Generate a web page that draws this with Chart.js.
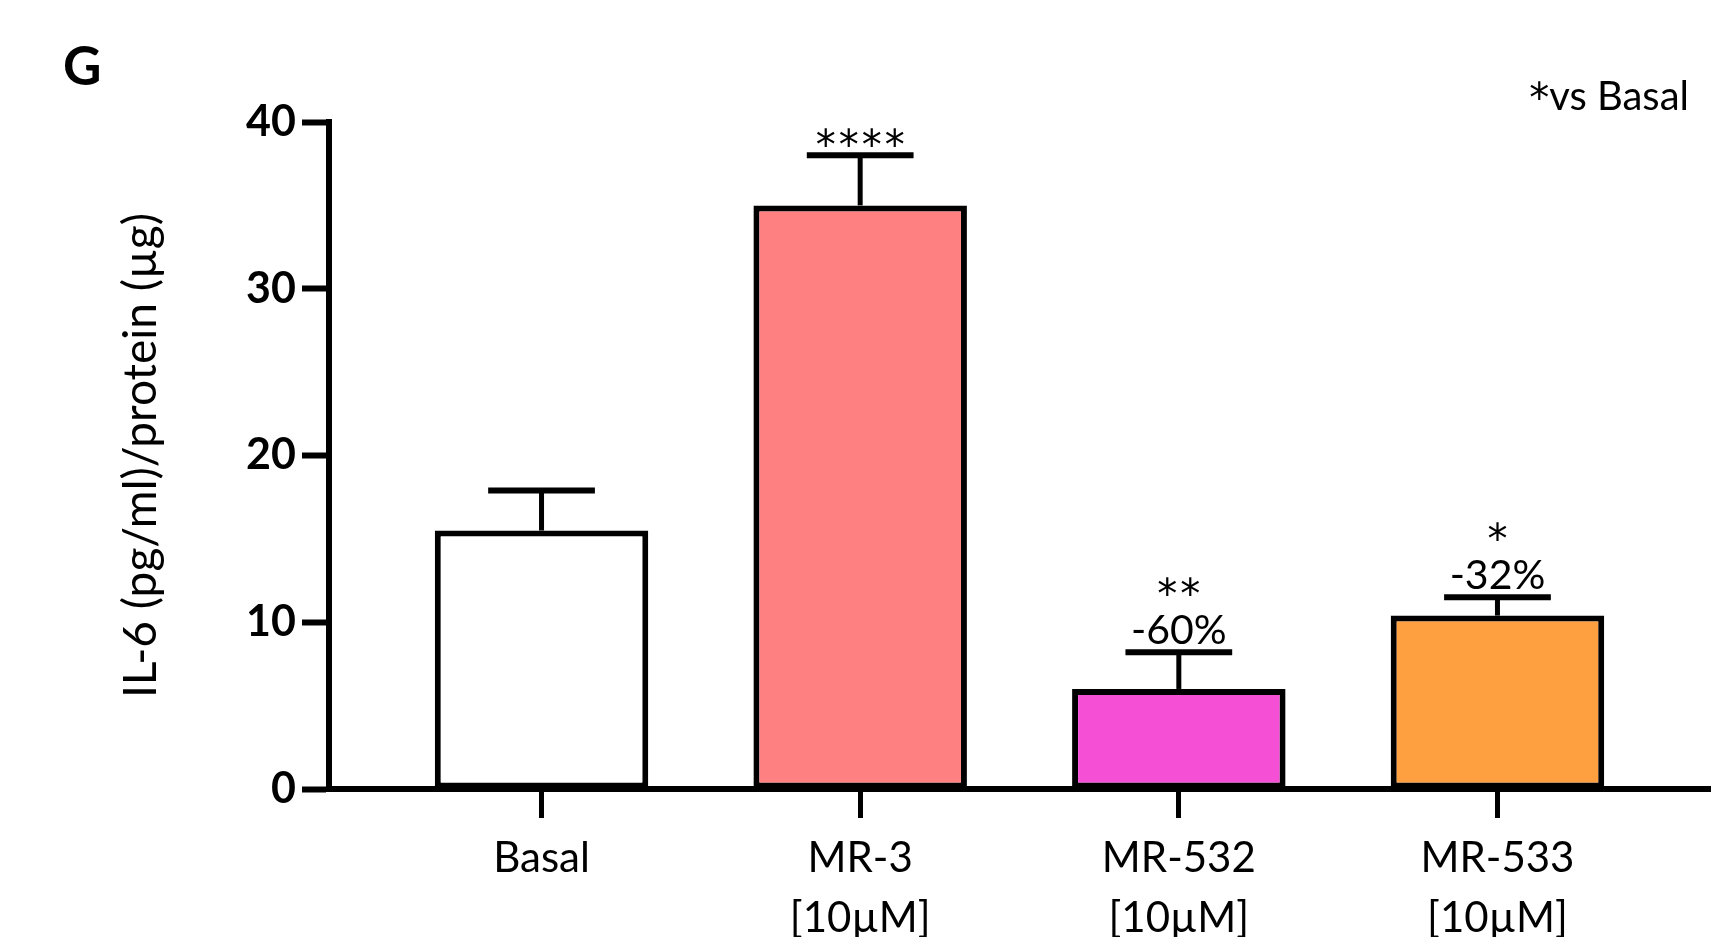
<!DOCTYPE html>
<html>
<head>
<meta charset="utf-8">
<script src="https://cdn.jsdelivr.net/npm/chart.js@4.4.0/dist/chart.umd.min.js"></script>
<style>
  html, body { margin: 0; padding: 0; background: #fff; }
  #wrap { width: 1736px; height: 937px; position: relative; }
</style>
</head>
<body>
<div id="wrap"><canvas id="il6Chart"></canvas></div>
<script>
const categories = ["Basal", "MR-3", "MR-532", "MR-533"];
const doses = ["", "[10µM]", "[10µM]", "[10µM]"];
const meanValues = [15.5, 35.0, 6.0, 10.4];
const semValues = [2.4, 3.0, 2.2, 1.1];
const sigLabels = ["", "****", "**", "*"];
const pctLabels = ["", "", "-60%", "-32%"];
const barColors = ["#FFFFFF", "#FF8080", "#F54FD6", "#FFA040"];
const yTicks = [0, 10, 20, 30, 40];

const starFont = "40px 'DejaVu Sans'";
const textFont = "41px Lato";

// error bars + significance text above each bar
const errorBars = {
    id: "errorBars",
    afterDatasetsDraw(chart) {
        const { ctx, scales: { x, y } } = chart;
        const meta = chart.getDatasetMeta(0);
        ctx.save();
        ctx.strokeStyle = "#000";
        ctx.fillStyle = "#000";
        meanValues.forEach((v, i) => {
            const cx = x.getPixelForValue(i);
            const top = y.getPixelForValue(v);
            const end = y.getPixelForValue(v + semValues[i]);
            const half = meta.data[i].width * 0.25;
            ctx.lineWidth = 5;
            ctx.beginPath();
            ctx.moveTo(cx, top);
            ctx.lineTo(cx, end);
            ctx.stroke();
            ctx.lineWidth = 6;
            ctx.beginPath();
            ctx.moveTo(cx - half, end);
            ctx.lineTo(cx + half, end);
            ctx.stroke();

            // lines drawn bottom-up: percentage first, then stars
            const lines = [];
            if (pctLabels[i]) lines.push([pctLabels[i], textFont]);
            if (sigLabels[i]) lines.push([sigLabels[i], starFont]);
            ctx.textAlign = "center";
            ctx.textBaseline = "alphabetic";
            let bottom = end - 8;
            lines.forEach(([t, f]) => {
                ctx.font = f;
                ctx.letterSpacing = f === starFont ? "3px" : "0px";
                const m = ctx.measureText(t);
                ctx.fillText(t, cx + (f === starFont ? 1.5 : 0), bottom - m.actualBoundingBoxDescent);
                bottom -= 48;
            });
        });
        ctx.restore();
    }
};

const cornerText = {
    id: "cornerText",
    afterDraw(chart) {
        const { ctx } = chart;
        ctx.save();
        ctx.fillStyle = "#000";
        ctx.textBaseline = "alphabetic";
        ctx.font = "bold 53px Lato";
        ctx.textAlign = "left";
        ctx.fillText("G", 63, 85);
        ctx.font = "40px Lato";
        ctx.textAlign = "right";
        ctx.fillText("vs Basal", 1689, 110);
        const w = ctx.measureText("vs Basal").width;
        ctx.font = starFont;
        const m = ctx.measureText("*");
        ctx.fillText("*", 1689 - w, 81 + m.actualBoundingBoxAscent);
        ctx.restore();
    }
};

const ctx = document.getElementById("il6Chart").getContext("2d");
new Chart(ctx, {
    type: "bar",
    data: {
        datasets: [{
            data: meanValues.map((v, i) => ({ x: i, y: v })),
            backgroundColor: barColors,
            borderColor: "#000",
            borderWidth: 6,
            borderSkipped: false,
            barPercentage: 0.67,
            categoryPercentage: 1
        }]
    },
    options: {
        responsive: true,
        maintainAspectRatio: false,
        animation: false,
        layout: { padding: { top: 122, right: 26, bottom: 0, left: 0 } },
        plugins: {
            legend: { display: false },
            tooltip: { enabled: false }
        },
        scales: {
            x: {
                type: "linear",
                offset: false,
                min: -0.667,
                max: 3.667,
                afterBuildTicks: (s) => { s.ticks = categories.map((c, i) => ({ value: i })); },
                afterFit: (s) => { s.height = 148; },
                border: { display: true, color: "#000", width: 6 },
                grid: { offset: false, drawOnChartArea: false, drawTicks: true, tickLength: 29, tickWidth: 5, tickColor: "#000" },
                ticks: {
                    autoSkip: false,
                    maxRotation: 0,
                    padding: 10,
                    color: "#000",
                    font: { family: "Lato", size: 42, lineHeight: 1.43 },
                    callback: (v, i) => doses[i] ? [categories[i], doses[i]] : categories[i]
                }
            },
            y: {
                min: 0,
                max: 40,
                afterBuildTicks: (s) => { s.ticks = yTicks.map(v => ({ value: v })); },
                afterFit: (s) => { s.width = 329; },
                border: { display: true, color: "#000", width: 6 },
                grid: { drawOnChartArea: false, drawTicks: true, tickLength: 27, tickWidth: 6, tickColor: "#000" },
                ticks: {
                    padding: 6,
                    color: "#000",
                    font: { family: "Lato", size: 43, weight: "bold" }
                },
                title: {
                    display: true,
                    text: "IL-6 (pg/ml)/protein (µg)",
                    color: "#000",
                    font: { family: "Lato", size: 46, lineHeight: 1.2 },
                    padding: { top: 114, bottom: 0 }
                }
            }
        }
    },
    plugins: [errorBars, cornerText]
});
</script>
</body>
</html>
